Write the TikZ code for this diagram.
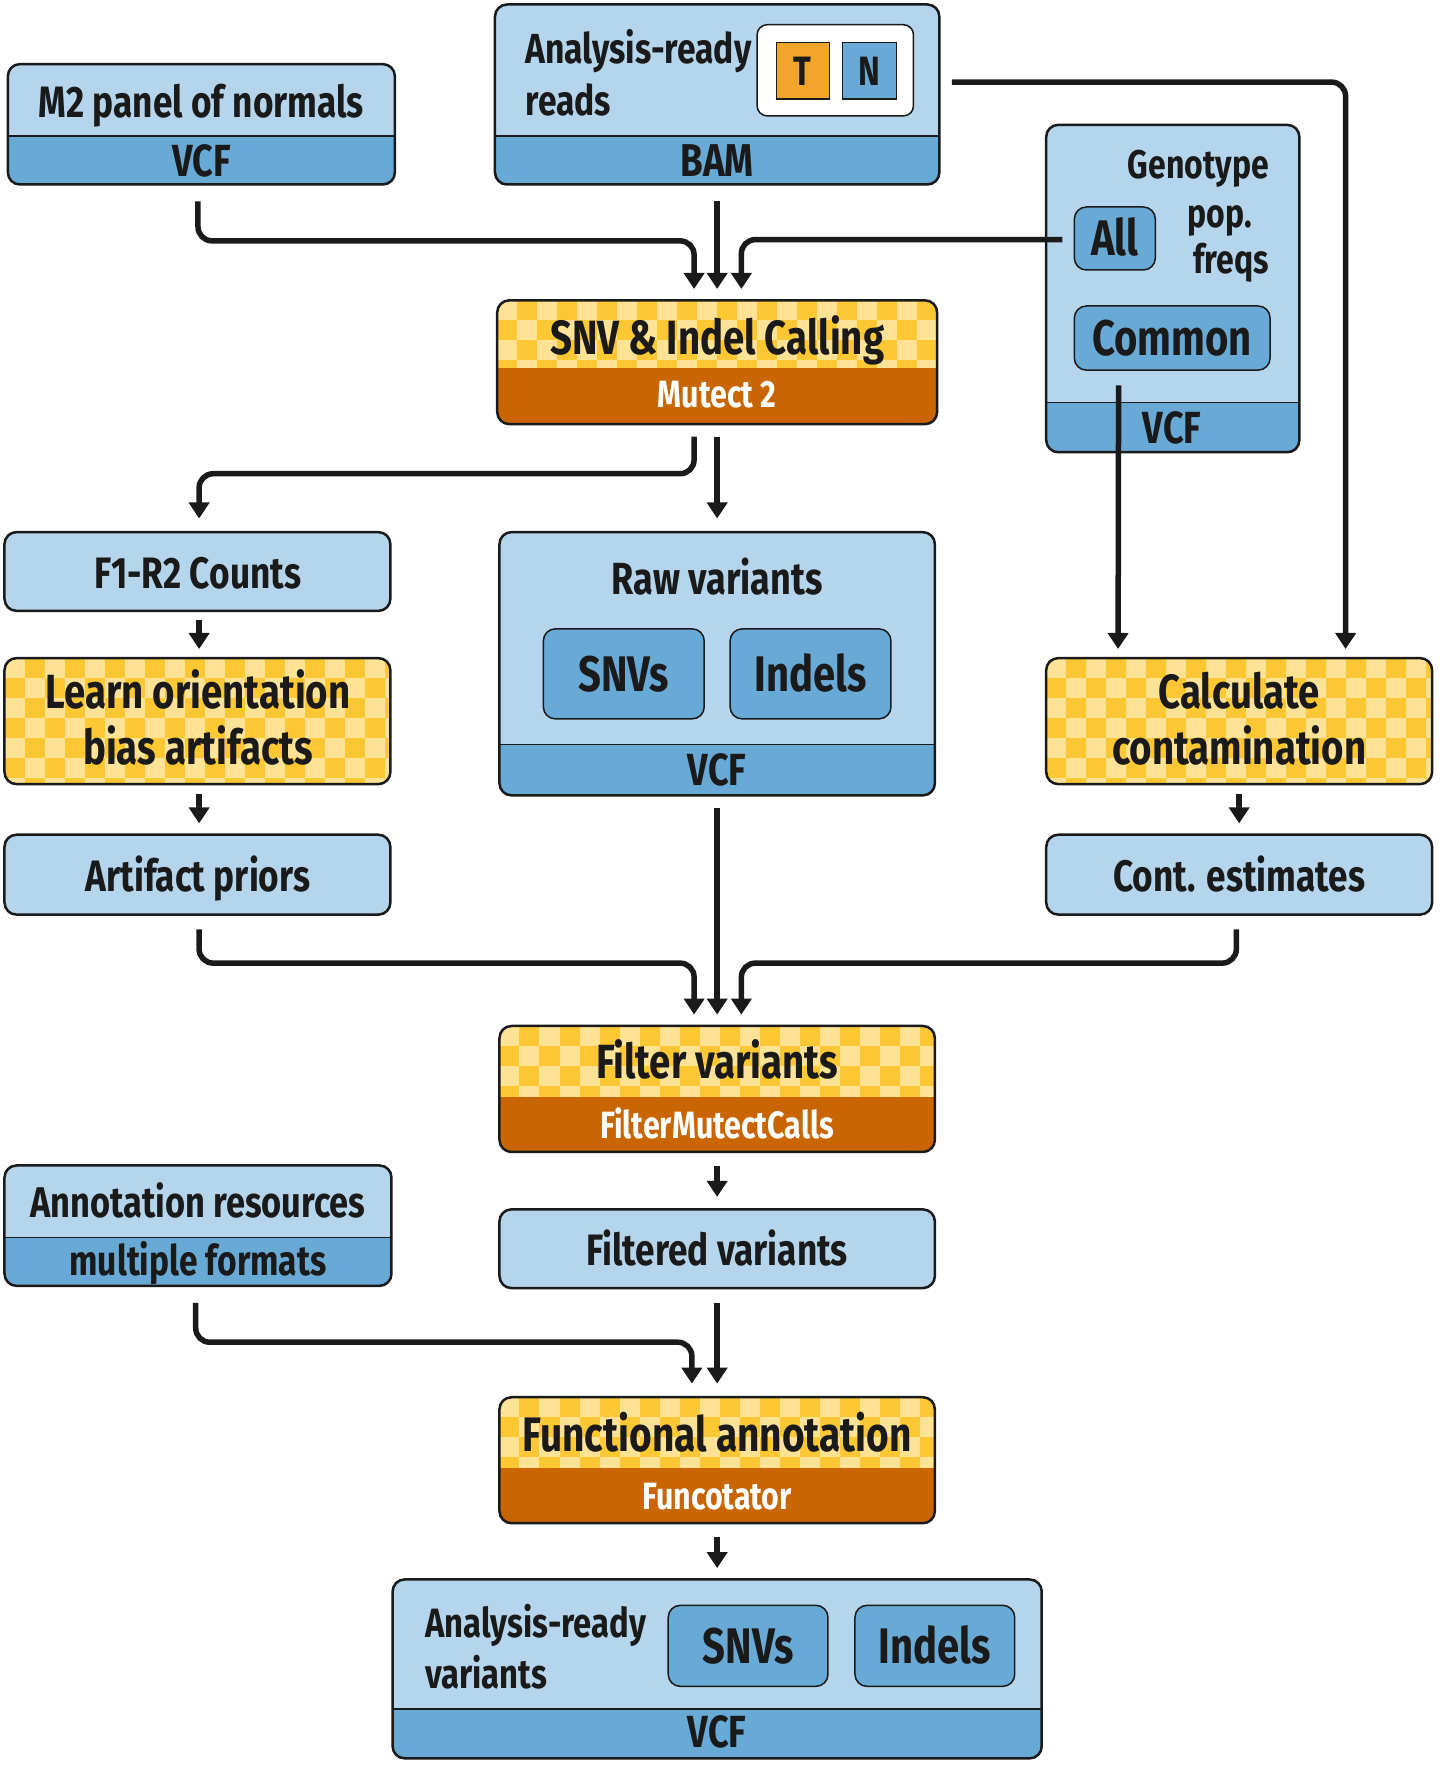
\documentclass[tikz,border=0pt]{standalone}
\usepackage{fontspec}
\setmainfont{Fira Sans}[FakeStretch=0.8]
\usetikzlibrary{calc,fit,arrows.meta}
\definecolor{ink}{HTML}{1A1A1A}
\definecolor{lblue}{HTML}{B4D5EB}
\definecolor{mblue}{HTML}{68A9D5}
\definecolor{orng}{HTML}{C96502}
\definecolor{ylight}{HTML}{FEE396}
\definecolor{ydark}{HTML}{FDC833}
\definecolor{tcol}{HTML}{F2A52B}
\newcommand\chkfill{%
  \foreach \i in {0,...,22}{\foreach \j in {0,...,8}{%
    \pgfmathtruncatemacro\cpar{mod(\i+\j,2)}%
    \ifnum\cpar=0 \fill[ylight,sharp corners] ($(path picture bounding box.north west)+(\i*17.78,\j*17.78)$) rectangle ++(17.78,17.78);\fi}}}
\tikzset{
  fs/.code={\pgfmathsetlengthmacro\mytexth{0.69*#1}\tikzset{font=\fontsize{#1}{#1}\selectfont\bfseries, text=ink, text height=\mytexth, text depth=0pt, inner sep=0pt}},
  box/.style={draw=ink, line width=2.5pt, rounded corners=12pt, fill=lblue, inner sep=0pt},
  ibox/.style={draw=ink, line width=1.5pt, rounded corners=12pt, fill=mblue, inner sep=0pt},
  bluebandbox/.style={box, path picture={
     \fill[mblue,sharp corners] ($(path picture bounding box.south west)+(0,-#1)$) rectangle (path picture bounding box.south east);
     \draw[ink, line width=1.5pt] ($(path picture bounding box.south west)+(0,-#1)$) -- ($(path picture bounding box.south east)+(0,-#1)$);}},
  checkbox/.style={box, fill=ydark, path picture={\chkfill}},
  orangebox/.style={box, fill=ydark, path picture={\chkfill
     \fill[orng,sharp corners] ($(path picture bounding box.south west)+(0,-#1)$) rectangle (path picture bounding box.south east);}},
  conn/.style={draw=ink, line width=5.5pt, rounded corners=14pt, -{Triangle[width=20pt,length=16pt]}},
}
\begin{document}
\begin{tikzpicture}[x=1.125pt,y=-1.125pt]
\useasboundingbox (0,0) rectangle (1280,1571.6);

% M2 panel of normals
\node[bluebandbox=43, fit={(7,57) (351,164)}] (m2) {};
\node[fs=44] (m2t) at (179,91) {M2 panel of normals};
\node[fs=45] (m2f) at (179,143) {VCF};

% Analysis-ready reads
\node[bluebandbox=43, fit={(440,4) (835,164)}] (bam) {};
\node[fs=42, anchor=west] (bamt1) at (467,44) {Analysis-ready};
\node[fs=42, anchor=west] (bamt2) at (467,90) {reads};
\node[draw=ink, line width=1.5pt, fill=white, rounded corners=10pt, inner sep=0pt, fit={(673,22) (812,103)}] (tn) {};
\node[draw=ink, line width=1.2pt, fill=tcol, inner sep=0pt, fit={(690,38) (737,88)}] (T) {};
\node[draw=ink, line width=1.2pt, fill=mblue, inner sep=0pt, fit={(749,38) (797,88)}] (N) {};
\node[fs=41] (Tt) at (T) {T};
\node[fs=41] (Nt) at (N) {N};
\node[fs=46] (bamf) at (637.5,143) {BAM};

% Genotype pop. freqs
\node[bluebandbox=44, fit={(930,111) (1155,402)}] (geno) {};
\node[fs=40, anchor=east] (g1) at (1128,146) {Genotype};
\node[fs=40, anchor=east] (g2) at (1113,190) {pop.};
\node[fs=40, anchor=east] (g3) at (1128,231) {freqs};
\node[ibox, fit={(955,184) (1027,240)}] (all) {};
\node[fs=50] (allt) at (all) {All};
\node[ibox, fit={(955,272) (1129,329)}] (common) {};
\node[fs=50] (commont) at (common) {Common};
\node[fs=45] (genof) at (1042,380) {VCF};

% SNV & Indel calling
\node[orangebox=50, fit={(442,267) (833,377)}] (snv) {};
\node[fs=48] (snvt) at (637.5,300) {SNV \& Indel Calling};
\node[fs=38, text=white] (snvs) at (637.5,351) {Mutect 2};

% left column
\node[box, fit={(4,473) (347,543)}] (f1r2) {};
\node[fs=44] (f1r2t) at (176,510) {F1-R2 Counts};
\node[checkbox, fit={(4,585) (347,697)}] (learn) {};
\node[fs=48] (l1) at (176,615) {Learn orientation};
\node[fs=48] (l2) at (176,665) {bias artifacts};
\node[box, fit={(4,742) (347,813)}] (prior) {};
\node[fs=44] (priort) at (176,779) {Artifact priors};

% Raw variants
\node[bluebandbox=45, fit={(444,473) (831,707)}] (raw) {};
\node[fs=45] (rawt) at (637.5,515) {Raw variants};
\node[ibox, fit={(483,559) (626,639)}] (rsnv) {};
\node[fs=50] (rsnvt) at (rsnv) {SNVs};
\node[ibox, fit={(649,559) (792,639)}] (rind) {};
\node[fs=50] (rindt) at (rind) {Indels};
\node[fs=45] (rawf) at (637.5,684) {VCF};

% right column
\node[checkbox, fit={(930,585) (1273,697)}] (calc) {};
\node[fs=48] (c1) at (1101.5,615) {Calculate};
\node[fs=48] (c2) at (1101.5,665) {contamination};
\node[box, fit={(930,742) (1273,813)}] (cont) {};
\node[fs=44] (contt) at (1101.5,779) {Cont. estimates};

% Filter variants
\node[orangebox=49, fit={(444,912) (831,1024)}] (filt) {};
\node[fs=48] (ft) at (637.5,944) {Filter variants};
\node[fs=38, text=white] (fsub) at (637.5,1000) {FilterMutectCalls};
\node[box, fit={(444,1075) (831,1145)}] (fvar) {};
\node[fs=44] (fvart) at (637.5,1111) {Filtered variants};

% Annotation resources
\node[bluebandbox=43, fit={(4,1036) (348,1143)}] (annot) {};
\node[fs=43] (a1) at (176,1069) {Annotation resources};
\node[fs=42] (a2) at (176,1121) {multiple formats};

% Functional annotation
\node[orangebox=49, fit={(444,1242) (831,1354)}] (func) {};
\node[fs=48.5] (fu1) at (637.5,1275) {Functional annotation};
\node[fs=38, text=white] (fu2) at (637.5,1330) {Funcotator};

% Analysis-ready variants
\node[bluebandbox=44, fit={(349,1404) (926,1563)}] (arv) {};
\node[fs=41, anchor=west] (av1) at (378,1443) {Analysis-ready};
\node[fs=41, anchor=west] (av2) at (378,1488) {variants};
\node[ibox, fit={(594,1427) (736,1499)}] (asnv) {};
\node[fs=50] (asnvt) at (asnv) {SNVs};
\node[ibox, fit={(760,1427) (902,1499)}] (aind) {};
\node[fs=50] (aindt) at (aind) {Indels};
\node[fs=45] (arvf) at (637.5,1540) {VCF};

% connectors
\draw[conn] ($(m2.south)+(-3,14)$) -- ++(0,35) -| ($(snv.north)+(-20.5,-9)$);
\draw[conn] ($(bam.south)+(0,14)$) -- ($(snv.north)+(0,-9)$);
\draw[conn] ($(all.west)+(-10,1)$) -| ($(snv.north)+(21.5,-9)$);
\draw[conn] ($(snv.south)+(-20.5,10)$) -- ++(0,33) -| ($(f1r2.north)+(1.5,-11)$);
\draw[conn] ($(snv.south)+(0,10)$) -- ($(raw.north)+(0,-11)$);
\draw[conn] ($(f1r2.south)+(1.5,7)$) -- ($(learn.north)+(1.5,-7)$);
\draw[conn] ($(learn.south)+(1.5,8)$) -- ($(prior.north)+(1.5,-9)$);
\draw[conn] ($(common.south west)+(40,13)$) -- ($(calc.north west)+(65,-7)$);
\draw[conn] ($(bam.east)+(10,-11)$) -| ($(calc.north east)+(-78,-7)$);
\draw[conn] ($(calc.south)+(0,8)$) -- ($(cont.north)+(0,-9)$);
\draw[conn] ($(prior.south)+(1.5,12)$) -- ++(0,30) -| ($(filt.north)+(-20.5,-9)$);
\draw[conn] ($(raw.south)+(0,10)$) -- ($(filt.north)+(0,-9)$);
\draw[conn] ($(cont.south)+(-2.5,12)$) -- ++(0,30) -| ($(filt.north)+(21.5,-9)$);
\draw[conn] ($(filt.south)+(0,11)$) -- ($(fvar.north)+(0,-10)$);
\draw[conn] ($(annot.south)+(-2,14)$) -- ++(0,35) -| ($(func.north)+(-22.5,-11)$);
\draw[conn] ($(fvar.south)+(0,12)$) -- ($(func.north)+(0,-11)$);
\draw[conn] ($(func.south)+(0,11)$) -- ($(arv.north)+(0,-9)$);
\end{tikzpicture}
\end{document}
